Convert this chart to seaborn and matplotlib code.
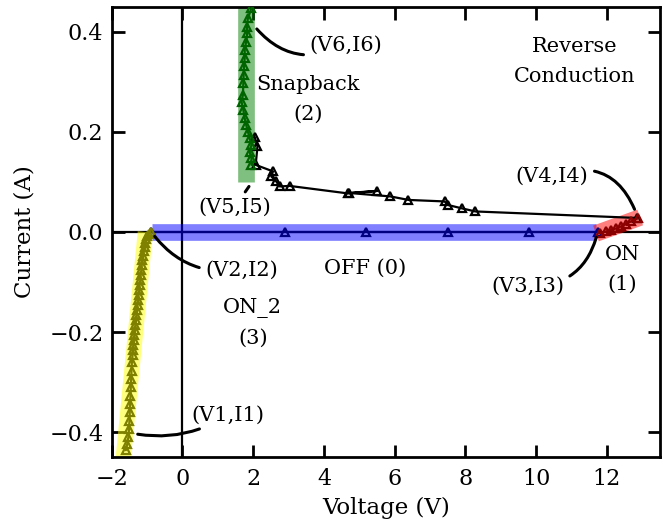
import numpy as np
import pandas as pd
import matplotlib
matplotlib.use('Agg')
import matplotlib.pyplot as plt
import seaborn as sns

# ON_2 branch (3), negative voltage
on2_v = [-0.90, -0.95, -0.99, -1.02, -1.05, -1.07, -1.09, -1.11, -1.13, -1.15,
         -1.16, -1.18, -1.19, -1.21, -1.22, -1.24, -1.25, -1.27, -1.28, -1.30,
         -1.31, -1.33, -1.34, -1.36, -1.37, -1.39, -1.40, -1.41, -1.43, -1.44,
         -1.45, -1.46, -1.47, -1.48, -1.49, -1.50, -1.51, -1.53, -1.56, -1.60]
on2_i = [0.000, -0.004, -0.009, -0.015, -0.022, -0.030, -0.038, -0.047, -0.056, -0.066,
         -0.076, -0.086, -0.096, -0.106, -0.116, -0.126, -0.136, -0.146, -0.156, -0.166,
         -0.176, -0.186, -0.196, -0.206, -0.216, -0.226, -0.236, -0.246, -0.260, -0.277,
         -0.293, -0.310, -0.327, -0.343, -0.360, -0.377, -0.393, -0.410, -0.423, -0.436]

# snapback branch (2)
snap_v = [1.95, 1.95, 1.90, 1.95, 1.90, 1.85, 1.80, 1.76, 1.72, 1.67,
          1.71, 1.72, 1.73, 1.74, 1.76, 1.76, 1.80, 1.83, 1.82, 1.85, 1.95]
snap_i = [0.134, 0.147, 0.160, 0.174, 0.187, 0.200, 0.214, 0.227, 0.244, 0.260,
          0.274, 0.297, 0.314, 0.331, 0.347, 0.364, 0.380, 0.397, 0.410, 0.427, 0.447]

# negative-resistance part joining snapback to ON
neg_v = [2.04, 2.12, 2.07, 2.56, 2.51, 2.65, 2.75, 3.03, 4.68, 5.51, 4.70,
         5.88, 6.39, 7.41, 7.50, 7.91, 8.28, 12.85]
neg_i = [0.190, 0.171, 0.134, 0.121, 0.111, 0.101, 0.091, 0.092, 0.077, 0.082, 0.078,
         0.071, 0.064, 0.061, 0.054, 0.047, 0.041, 0.028]

# OFF state (0)
off_v = [-0.88, 2.89, 5.19, 7.50, 9.79, 11.75]
off_i = [0.0, 0.0, 0.0, 0.0, 0.0, 0.0]

# ON state (1)
on_v = [11.79, 11.98, 12.12, 12.26, 12.40, 12.54, 12.68, 12.87]
on_i = [-0.003, 0.001, 0.004, 0.007, 0.011, 0.016, 0.021, 0.027]

sns.set_theme(style='ticks')
plt.rcParams['font.family'] = ['DejaVu Serif']
plt.rcParams['font.size'] = 15
for k in ['text.color', 'axes.labelcolor', 'xtick.color', 'ytick.color']:
    plt.rcParams[k] = 'black'

fig = plt.figure(figsize=(6.71, 5.22), dpi=100)
ax = fig.add_axes([0.1665, 0.124, 0.8171, 0.8632])

ax.axhline(0, color='black', lw=1.6, zorder=1)
ax.axvline(0, color='black', lw=1.6, zorder=1)

# highlighted regions
band = dict(alpha=0.5, solid_capstyle='butt', zorder=2)
ax.plot([-1.05, -1.70], [0.0, -0.47], color='yellow', lw=11, **band)
ax.plot([1.81, 1.81], [0.10, 0.46], color='green', lw=12, **band)
ax.plot([-0.87, 11.70], [0.0, 0.0], color='blue', lw=12, **band)
ax.plot([11.69, 12.94], [-0.003, 0.029], color='red', lw=12, **band)

mk = dict(marker='^', markersize=6, markerfacecolor='none', markeredgewidth=1.6,
          estimator=None, sort=False, ax=ax, zorder=3)
sns.lineplot(x=neg_v, y=neg_i, color='black', lw=1.6, markeredgecolor='black', **mk)
sns.lineplot(x=off_v, y=off_i, color='navy', lw=1.6, markeredgecolor='navy', **mk)
sns.lineplot(x=on2_v, y=on2_i, color='olive', lw=1.6, markeredgecolor='olive', **mk)
sns.lineplot(x=snap_v, y=snap_i, color='darkgreen', lw=1.6, markeredgecolor='darkgreen', **mk)
sns.lineplot(x=on_v, y=on_i, color='darkred', lw=1.6, markeredgecolor='darkred', **mk)

arrow = lambda r: dict(arrowstyle='-', color='black', lw=2.2,
                       connectionstyle='arc3,rad=%s' % r, shrinkA=2, shrinkB=4)
ax.annotate('(V1,I1)', xy=(-1.42, -0.402), xytext=(1.27, -0.366),
            ha='center', va='center', arrowprops=arrow(-0.2))
ax.annotate('(V2,I2)', xy=(-0.88, 0.0), xytext=(1.67, -0.076),
            ha='center', va='center', arrowprops=arrow(-0.3))
ax.annotate('(V3,I3)', xy=(11.74, 0.0), xytext=(9.76, -0.109),
            ha='center', va='center', arrowprops=arrow(0.4))
ax.annotate('(V4,I4)', xy=(12.84, 0.035), xytext=(10.45, 0.111),
            ha='center', va='center', arrowprops=arrow(-0.5))
ax.annotate('(V5,I5)', xy=(1.97, 0.10), xytext=(1.48, 0.05),
            ha='center', va='center', arrowprops=arrow(0.0))
ax.annotate('(V6,I6)', xy=(2.0, 0.414), xytext=(4.62, 0.373),
            ha='center', va='center', arrowprops=arrow(-0.4))

ax.text(3.55, 0.265, 'Snapback\n(2)', ha='center', va='center', linespacing=1.75)
ax.text(11.08, 0.341, 'Reverse\nConduction', ha='center', va='center', linespacing=1.7)
ax.text(5.16, -0.072, 'OFF (0)', ha='center', va='center')
ax.text(12.43, -0.075, 'ON\n(1)', ha='center', va='center', linespacing=1.75)
ax.text(1.99, -0.181, 'ON_2\n(3)', ha='center', va='center', linespacing=1.7)

ax.set_xlim(-2, 13.5)
ax.set_ylim(-0.45, 0.45)
ax.set_xticks([-2, 0, 2, 4, 6, 8, 10, 12])
ax.set_yticks([-0.4, -0.2, 0.0, 0.2, 0.4])
ax.set_xlabel('Voltage (V)', fontsize=16.5, labelpad=5)
ax.set_ylabel('Current (A)', fontsize=16.5, labelpad=10)
ax.tick_params(direction='in', length=9, width=2, top=True, right=True, labelsize=16)
ax.tick_params(axis='x', pad=8)
ax.tick_params(axis='y', pad=6)
for s in ax.spines.values():
    s.set_linewidth(2)
    s.set_color('black')

fig.savefig('out.png', dpi=100)
plt.close()
